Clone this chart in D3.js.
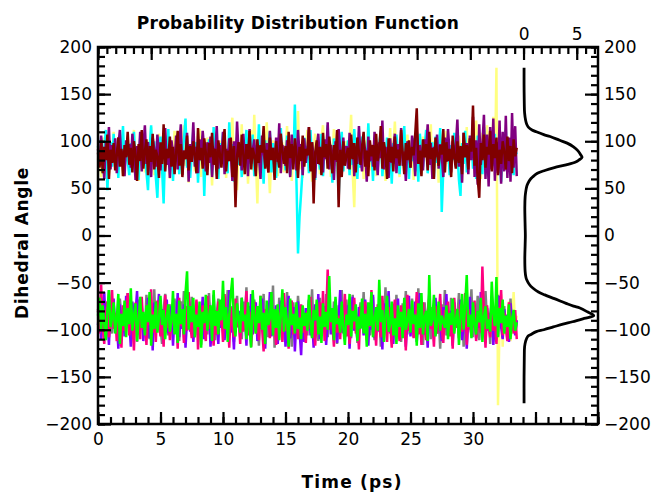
<!DOCTYPE html>
<html>
<head>
<meta charset="utf-8">
<script src="https://cdn.jsdelivr.net/npm/d3@7"></script>
<style>
body { margin: 0; background: #fff; }
</style>
</head>
<body>
<script>

let width = 651;
let height = 492;

let margins = {
	top: 47,
	right: 53,
	bottom: 68,
	left: 98
};

// one sample every 0.125 ps
let step = 0.125;

// upper state (~ +85 deg)
let yellow = [
	80, 95, 62, 88, 104, 73, 91, 66, 99, 84,
	110, 76, 92, 68, 101, 87, 63, 97, 79, 105,
	72, 94, 84, 112, 70, 90, 58, 96, 81, 103,
	67, 89, 100, 75, 115, 82, 64, 93, 78, 108,
	86, 69, 97, 74, 106, 88, 60, 99, 83, 111,
	71, 92, 65, 102, 80, 117, 74, 90, 56, 95,
	85, 107, 68, 94, 79, 113, 62, 98, 87, 72,
	104, 77, 91, 53, 96, 83, 109, 66, 89, 101,
	74, 98, 61, 92, 80, 106, 125, 70, 88, 48,
	95, 76, 118, 64, 90, 103, 55, 86, 112, 69,
	128, 82, 34, 97, 74, 105, 66, 92, 120, 78,
	45, 88, 101, 71, 94, 63, 110, 84, 99, 67,
	90, 116, 73, 96, 58, 87, 104, 79, 132, 70,
	93, 61, 100, 85, 112, 68, 97, 57, 89, 108,
	76, 94, 65, 102, 117, 81, 92, 70, 99, 62,
	88, 113, 74, 96, 52, 91, 106, 69, 85, 100,
	77, 94, 128, 66, 30, 98, 83, 110, 72, 90,
	60, 101, 86, 117, 69, 93, 78, 104, 63, 95,
	82, 109, 71, 89, 58, 97, 84, 114, 66, 92,
	121, 75, 88, 62, 103, 80, 95, 68, 107, 86,
	73, 99, 59, 91, 112, 77, 94, 64, 105, 83,
	96, 70, 87, 118, 61, 100, 79, 92, 56, 108,
	84, 97, 67, 111, 76, 89, 63, 102, 81, 94,
	72, 106, 88, 58, 99, 78, 115, 69, 93, 85,
	101, 66, 122, 80, 96, 60, 109, 75, 90, 117,
	70, 98, 83, 126, 64, 178, -180, -95, -62, -118,
	-78, -105, -88, -70, -112, -92, -60, -101, -85
];

let cyan = [
	95, 78, 104, 66, 90, 112, 48, 86, 99, 73,
	108, 82, 93, 61, 101, 87, 116, 70, 94, 80,
	64, 98, 85, 110, 74, 91, 59, 103, 79, 96,
	88, 67, 48, 92, 117, 76, 100, 62, 40, 89,
	105, 71, 34, 94, 83, 113, 69, 97, 58, 90,
	78, 108, 65, 93, 84, 102, 124, 72, 96, 61,
	87, 111, 74, 99, 56, 91, 80, 106, 42, 95,
	70, 102, 86, 64, 115, 79, 93, 60, 98, 83,
	109, 73, 90, 66, 120, 81, 97, 57, 88, 104,
	75, 94, 62, 100, 85, 112, 68, 92, 79, 107,
	63, 96, 82, 118, 71, 89, 55, 101, 77, 93,
	110, 67, 98, 84, 61, 95, 73, 114, 80, 91,
	69, 106, 87, 64, 100, 76, 139, 58, -19, 20,
	45, 72, 104, 81, 95, 66, 112, 78, 90, 59,
	99, 85, 70, 108, 63, 94, 82, 117, 74, 91,
	56, 103, 79, 96, 38, 88, 110, 68, 93, 84,
	101, 64, 97, 75, 113, 86, 60, 99, 72, 105,
	82, 93, 67, 119, 78, 90, 58, 102, 85, 71,
	96, 111, 63, 89, 80, 104, 69, 92, 55, 98,
	76, 107, 88, 65, 100, 83, 116, 71, 94, 60,
	90, 79, 103, 68, 97, 57, 108, 84, 73, 95,
	112, 66, 91, 81, 99, 62, 105, 77, 88, 114,
	25, 70, 93, 85, 102, 64, 96, 80, 109, 73,
	89, 59, 42, 98, 76, 111, 67, 94, 84, 103,
	71, 92, 60, 106, 81, 97, 65, 115, 78, 90,
	62, 100, 86, 74, 108, 69, 95, 83, 57, 99,
	80, 112, 68, 93, 77, 105, 64, 91, 86
];

let purple = [
	92, 74, 106, 83, 60, 99, 87, 115, 70, 96,
	81, 103, 66, 94, 112, 77, 90, 63, 101, 85,
	97, 72, 108, 88, 59, 95, 80, 110, 68, 93,
	117, 76, 99, 84, 62, 104, 91, 73, 107, 86,
	69, 98, 82, 114, 75, 92, 61, 101, 88, 79,
	106, 70, 95, 118, 64, 90, 83, 109, 57, 97,
	85, 120, 73, 94, 66, 102, 80, 111, 91, 68,
	99, 77, 105, 62, 93, 86, 116, 71, 96, 82,
	110, 65, 92, 79, 103, 88, 58, 100, 74, 121,
	87, 95, 69, 108, 81, 97, 63, 113, 76, 90,
	102, 72, 94, 84, 60, 106, 89, 75, 98, 67,
	111, 83, 93, 70, 104, 78, 119, 66, 96, 86,
	74, 101, 91, 62, 107, 80, 95, 69, 112, 85,
	97, 64, 103, 77, 90, 115, 72, 99, 83, 61,
	94, 108, 75, 88, 67, 102, 81, 120, 70, 96,
	86, 59, 100, 78, 113, 91, 65, 104, 82, 95,
	71, 109, 87, 98, 63, 93, 76, 116, 84, 68,
	101, 90, 57, 105, 79, 96, 73, 110, 88, 64,
	99, 82, 122, 70, 94, 85, 61, 103, 77, 92,
	108, 66, 97, 80, 114, 74, 89, 58, 100, 87,
	72, 106, 93, 63, 111, 79, 96, 84, 69, 102,
	90, 118, 75, 98, 60, 94, 83, 107, 71, 97,
	85, 62, 104, 78, 113, 89, 67, 100, 81, 95,
	123, 73, 91, 56, 109, 84, 98, 65, 106, 80,
	126, 62, 101, 54, 118, 75, 96, 128, 60, 107,
	52, 115, 70, 124, 58, 99, 66, 122, 55, 110,
	68, 127, 61, 104, 57, 130, 72, 116, 63
];

let maroon = [
	88, 72, 101, 66, 94, 80, 107, 60, 91, 77,
	98, 69, 85, 104, 73, 92, 63, 96, 83, 110,
	75, 93, 67, 100, 86, 58, 97, 79, 112, 71,
	89, 102, 64, 95, 78, 108, 70, 91, 84, 61,
	99, 76, 118, 68, 92, 82, 105, 73, 94, 65,
	87, 111, 74, 97, 62, 90, 81, 106, 69, 95,
	78, 100, 85, 66, 114, 80, 93, 71, 103, 88,
	64, 98, 83, 109, 75, 92, 60, 101, 86, 72,
	96, 113, 68, 90, 79, 104, 62, 95, 30, 84,
	99, 74, 107, 86, 65, 97, 81, 111, 70, 93,
	85, 63, 102, 77, 96, 88, 116, 71, 91, 67,
	104, 80, 93, 59, 100, 84, 72, 108, 89, 76,
	95, 66, 110, 82, 97, 70, 103, 87, 61, 94,
	79, 106, 73, 92, 85, 115, 68, 99, 34, 88,
	101, 76, 94, 64, 109, 83, 97, 71, 105, 87,
	66, 96, 80, 112, 30, 91, 62, 100, 74, 85,
	93, 70, 107, 81, 98, 67, 104, 88, 75, 95,
	110, 73, 90, 63, 101, 84, 96, 69, 108, 79,
	92, 116, 71, 99, 86, 60, 103, 78, 94, 68,
	105, 82, 91, 74, 112, 87, 65, 98, 80, 101,
	72, 94, 85, 107, 135, 76, 90, 63, 102, 83,
	97, 69, 110, 81, 93, 60, 104, 88, 74, 96,
	86, 113, 67, 99, 79, 92, 62, 106, 84, 71,
	100, 77, 95, 65, 109, 83, 96, 70, 103, 89,
	138, 74, 93, 61, 40, 98, 80, 107, 72, 94,
	86, 111, 68, 97, 82, 104, 64, 91, 76, 100,
	89, 70, 105, 79, 95, 66, 102, 84, 93
];

// lower state (~ -85 deg)
let gray = [
	-80, -99, -65, -92, -111, -76, -95, -58, -88, -104,
	-71, -97, -83, -117, -67, -90, -102, -74, -93, -61,
	-86, -108, -72, -96, -81, -113, -68, -99, -77, -91,
	-104, -63, -89, -110, -75, -94, -57, -100, -84, -71,
	-98, -115, -79, -62, -93, -106, -73, -88, -101, -67,
	-95, -82, -112, -70, -90, -59, -103, -78, -97, -86,
	-65, -109, -91, -74, -100, -84, -116, -69, -94, -80,
	-105, -61, -88, -99, -76, -111, -83, -67, -96, -90,
	-72, -107, -85, -58, -101, -93, -75, -113, -81, -64,
	-98, -87, -110, -70, -92, -55, -104, -79, -95, -85,
	-68, -102, -89, -117, -76, -96, -62, -99, -83, -108,
	-73, -94, -53, -119, -86, -100, -66, -90, -111, -78,
	-97, -60, -105, -84, -118, -71, -93, -102, -64, -89,
	-110, -75, -98, -82, -106, -69, -91, -57, -103, -87,
	-77, -112, -66, -95, -84, -100, -62, -108, -79, -92,
	-101, -70, -89, -115, -74, -96, -58, -104, -86, -68,
	-93, -81, -109, -63, -99, -76, -114, -85, -71, -97,
	-60, -102, -88, -73, -106, -92, -65, -111, -80, -95,
	-84, -118, -69, -98, -55, -103, -77, -91, -107, -74,
	-96, -63, -100, -86, -113, -72, -94, -59, -105, -82,
	-90, -67, -108, -78, -99, -56, -101, -88, -116, -71,
	-94, -83, -62, -110, -76, -97, -68, -104, -85, -120,
	-73, -92, -58, -106, -81, -99, -66, -112, -79, -95,
	-87, -61, -103, -74, -118, -90, -69, -100, -84, -57,
	-108, -77, -96, -64, -111, -86, -72, -102, -59, -93,
	-82, -115, -70, -98, -88, -106, -63, -95, -78, -109,
	-75, -100, -85, -112, -67, -97, -81, -104, -90
];

let violet = [
	-95, -72, -110, -84, -60, -99, -88, -116, -76, -92,
	-67, -103, -85, -120, -73, -97, -81, -107, -64, -94,
	-90, -118, -70, -100, -83, -59, -105, -91, -74, -112,
	-86, -98, -66, -109, -80, -122, -71, -95, -87, -62,
	-101, -78, -114, -89, -68, -104, -93, -75, -117, -84,
	-97, -61, -108, -82, -99, -73, -119, -88, -66, -102,
	-79, -113, -91, -70, -106, -85, -96, -65, -110, -83,
	-100, -74, -118, -92, -63, -105, -87, -115, -77, -98,
	-69, -111, -84, -95, -58, -103, -90, -121, -72, -94,
	-80, -108, -66, -100, -86, -117, -75, -97, -62, -105,
	-89, -71, -112, -83, -99, -67, -96, -120, -78, -91,
	-60, -107, -85, -102, -74, -115, -93, -69, -104, -81,
	-118, -90, -64, -109, -96, -76, -123, -87, -70, -101,
	-127, -84, -113, -77, -95, -68, -106, -88, -119, -73,
	-99, -62, -110, -86, -102, -75, -116, -91, -66, -105,
	-83, -97, -71, -114, -89, -58, -103, -80, -108, -93,
	-74, -120, -87, -65, -101, -92, -111, -76, -98, -84,
	-106, -68, -95, -117, -81, -100, -63, -109, -90, -77,
	-102, -88, -121, -72, -96, -85, -59, -104, -93, -115,
	-79, -98, -67, -110, -86, -101, -74, -118, -92, -64,
	-107, -83, -96, -70, -113, -89, -61, -100, -78, -105,
	-91, -119, -73, -97, -84, -108, -66, -102, -87, -95,
	-112, -76, -99, -62, -106, -90, -80, -117, -71, -94,
	-85, -103, -68, -111, -96, -79, -120, -88, -65, -100,
	-92, -74, -109, -83, -98, -60, -105, -89, -114, -77,
	-101, -86, -70, -116, -93, -81, -107, -64, -97, -110,
	-78, -95, -84, -113, -72, -99, -88, -106, -90
];

let pink = [
	-78, -104, -52, -96, -115, -85, -70, -108, -91, -58,
	-99, -82, -112, -67, -94, -119, -74, -101, -88, -61,
	-106, -79, -93, -122, -71, -97, -84, -110, -65, -100,
	-89, -116, -73, -95, -57, -103, -81, -113, -69, -92,
	-107, -86, -118, -63, -98, -77, -111, -90, -72, -104,
	-83, -120, -66, -96, -88, -114, -75, -101, -60, -93,
	-109, -80, -97, -68, -121, -87, -103, -74, -94, -112,
	-64, -99, -86, -91, -117, -79, -105, -70, -95, -83,
	-113, -62, -100, -83, -119, -76, -92, -108, -67, -97,
	-85, -115, -72, -102, -89, -59, -106, -81, -118, -93,
	-70, -104, -87, -111, -64, -98, -123, -78, -94, -84,
	-109, -66, -100, -90, -116, -74, -96, -82, -113, -61,
	-101, -88, -120, -75, -69, -105, -92, -79, -110, -96,
	-73, -103, -86, -114, -80, -99, -65, -108, -91, -117,
	-84, -97, -71, -106, -59, -112, -88, -36, -100, -77,
	-94, -118, -68, -103, -85, -110, -74, -96, -62, -107,
	-89, -115, -79, -99, -66, -104, -92, -121, -75, -86,
	-102, -70, -111, -83, -97, -58, -106, -90, -117, -73,
	-95, -108, -64, -100, -87, -113, -76, -94, -119, -81,
	-68, -103, -90, -112, -74, -98, -85, -122, -63, -101,
	-88, -77, -109, -93, -60, -105, -82, -116, -71, -97,
	-111, -84, -67, -99, -92, -118, -75, -104, -86, -62,
	-100, -114, -79, -95, -70, -107, -89, -120, -66, -98,
	-83, -109, -73, -102, -91, -61, -116, -78, -96, -105,
	-87, -69, -112, -94, -80, -103, -33, -85, -119, -74,
	-97, -108, -64, -101, -90, -115, -76, -93, -58, -106,
	-82, -99, -112, -71, -95, -88, -104, -79, -110
];

let green = [
	-85, -66, -100, -74, -93, -111, -80, -58, -97, -88,
	-71, -104, -90, -62, -115, -83, -96, -69, -108, -77,
	-94, -56, -101, -86, -72, -112, -89, -65, -98, -81,
	-106, -74, -92, -60, -117, -84, -99, -70, -103, -88,
	-64, -95, -79, -110, -87, -73, -102, -91, -59, -105,
	-83, -114, -69, -94, -78, -105, -61, -38, -100, -75,
	-92, -66, -108, -84, -97, -70, -119, -81, -93, -63,
	-101, -87, -74, -112, -58, -96, -80, -105, -68, -90,
	-48, -99, -76, -113, -85, -62, -45, -94, -107, -72,
	-88, -103, -66, -91, -84, -110, -71, -97, -119, -58,
	-86, -104, -75, -93, -64, -100, -82, -115, -69, -95,
	-88, -60, -106, -78, -98, -73, -111, -85, -57, -102,
	-76, -92, -118, -67, -95, -83, -104, -71, -99, -87,
	-110, -74, -96, -82, -101, -63, -93, -109, -79, -90,
	-68, -105, -86, -114, -72, -97, -81, -100, -43, -92,
	-77, -111, -65, -94, -88, -103, -70, -98, -116, -84,
	-95, -62, -107, -80, -91, -73, -112, -86, -99, -67,
	-104, -83, -118, -71, -96, -60, -108, -89, -76, -101,
	-47, -92, -79, -113, -85, -64, -102, -94, -70, -106,
	-88, -115, -74, -97, -81, -109, -66, -100, -91, -78,
	-103, -69, -94, -84, -117, -72, -98, -61, -105, -87,
	-80, -112, -42, -96, -89, -63, -107, -93, -70, -101,
	-85, -92, -98, -74, -110, -82, -95, -67, -104, -90,
	-78, -116, -88, -62, -100, -73, -42, -97, -84, -109,
	-71, -94, -105, -80, -92, -66, -113, -86, -75, -99,
	-89, -102, -49, -83, -96, -44, -108, -77, -93, -68,
	-104, -85, -97, -73, -110, -88, -79, -101, -92
];

let seriesColors = ["#ffff80", "#00ffff", "#800080", "#800000", "#808080", "#8000ff", "#ff0080", "#00ff00"];

// probability distribution of the angle (right panel)
let pdfAngle = [
	178, 160, 140, 130, 122, 118, 115, 112, 110, 107,
	105, 101, 98, 94, 90, 86, 83, 80, 78, 75,
	72, 69, 66, 62, 59, 55, 52, 46, 41, 30,
	10, 0, -10, -25, -38, -44, -47, -52, -56, -60,
	-63, -67, -72, -75, -77, -81, -85, -88, -91.5, -94,
	-97, -100, -102, -105, -107, -112, -118, -130, -150, -178
];
let pdfValue = [
	0.05, 0.05, 0.07, 0.1, 0.2, 0.3, 0.45, 0.8, 1.2, 1.9,
	2.5, 3.4, 4.1, 4.7, 5.1, 5.35, 5.5, 5.2, 4.9, 4.0,
	2.9, 2.0, 1.3, 0.85, 0.6, 0.4, 0.3, 0.2, 0.15, 0.12,
	0.15, 0.17, 0.15, 0.12, 0.15, 0.22, 0.3, 0.55, 0.9, 1.4,
	2.0, 2.9, 4.0, 4.7, 5.3, 6.0, 6.6, 5.7, 4.6, 3.7,
	2.8, 1.9, 1.2, 0.7, 0.4, 0.2, 0.1, 0.07, 0.05, 0.05
];

let xTicks = [0, 5, 10, 15, 20, 25, 30];
let yTicks = [-200, -150, -100, -50, 0, 50, 100, 150, 200];
let pdfTicks = [0, 5];

let series = [yellow, cyan, purple, maroon, gray, violet, pink, green].map((values, i) => ({
	values: values,
	color: seriesColors[i]
}));

let x0 = margins.left;
let x1 = width - margins.right;
let y0 = height - margins.bottom;
let y1 = margins.top;

let xScale = d3.scaleLinear()
	.range([x0, x1])
	.domain([0, 40]);

let yScale = d3.scaleLinear()
	.range([y0, y1])
	.domain([-200, 200]);

// top axis belongs to the distribution
let pdfScale = d3.scaleLinear()
	.range([x0, x1])
	.domain([-40, 7]);

let svg = d3.select("body")
	.append("svg")
		.attr("width", width)
		.attr("height", height);

let valueline = d3.line()
	.x((d, i) => xScale(i * step))
	.y(d => yScale(d));

series.forEach(s => {
	svg.append("path")
		.datum(s.values)
		.attr("d", valueline)
		.style("fill", "none")
		.style("stroke", s.color)
		.style("stroke-width", "2.5px");
});

let pdfLine = d3.line()
	.x(d => pdfScale(d))
	.y((d, i) => yScale(pdfAngle[i]))
	.curve(d3.curveCatmullRom.alpha(0.5));

svg.append("path")
	.datum(pdfValue)
	.attr("d", pdfLine)
	.style("fill", "none")
	.style("stroke", "#000")
	.style("stroke-width", "2.8px");

function styleAxis(g) {
	g.select(".domain").remove();
	g.selectAll(".tick line").attr("stroke", "#000").attr("stroke-width", 2.2);
	g.attr("font-family", "'DejaVu Sans', sans-serif").attr("font-size", 17);
	g.selectAll(".tick text").attr("fill", "#000");
}

// bottom axis
svg.append("g")
	.attr("transform", "translate(0," + y0 + ")")
	.call(d3.axisBottom(xScale).tickValues(d3.range(0, 41, 1)).tickSize(-7).tickFormat(""))
	.call(styleAxis);
svg.append("g")
	.attr("transform", "translate(0," + y0 + ")")
	.call(d3.axisBottom(xScale).tickValues(d3.range(0, 41, 5)).tickSize(-12).tickPadding(9)
		.tickFormat(d => xTicks.includes(d) ? d : ""))
	.call(styleAxis);

// top axis
svg.append("g")
	.attr("transform", "translate(0," + y1 + ")")
	.call(d3.axisTop(pdfScale).tickValues(d3.range(0, 57).map(k => -40 + k * 5 / 6)).tickSize(-7).tickFormat(""))
	.call(styleAxis);
svg.append("g")
	.attr("transform", "translate(0," + y1 + ")")
	.call(d3.axisTop(pdfScale).tickValues(d3.range(-40, 6, 5)).tickSize(-13).tickPadding(7)
		.tickFormat(d => pdfTicks.includes(d) ? d : ""))
	.call(styleAxis);

// left and right axes
[[x0, d3.axisLeft], [x1, d3.axisRight]].forEach(([xp, ax]) => {
	svg.append("g")
		.attr("transform", "translate(" + xp + ",0)")
		.call(ax(yScale).tickValues(d3.range(-200, 201, 10)).tickSize(-7).tickFormat(""))
		.call(styleAxis);
	svg.append("g")
		.attr("transform", "translate(" + xp + ",0)")
		.call(ax(yScale).tickValues(yTicks).tickSize(-13).tickPadding(6))
		.call(styleAxis);
});

// frame
svg.append("rect")
	.attr("x", x0)
	.attr("y", y1)
	.attr("width", x1 - x0)
	.attr("height", y0 - y1)
	.style("fill", "none")
	.style("stroke", "#000")
	.style("stroke-width", "2.5px");

svg.append("text")
	.attr("x", 298)
	.attr("y", 29)
	.attr("text-anchor", "middle")
	.attr("font-family", "'DejaVu Sans', sans-serif")
	.attr("font-weight", "bold")
	.attr("font-size", 17)
	.attr("letter-spacing", "0.25px")
	.text("Probability Distribution Function");

svg.append("text")
	.attr("x", 352)
	.attr("y", 488)
	.attr("text-anchor", "middle")
	.attr("font-family", "'DejaVu Sans', sans-serif")
	.attr("font-weight", "bold")
	.attr("font-size", 17)
	.attr("letter-spacing", "1.2px")
	.text("Time (ps)");

svg.append("text")
	.attr("transform", "translate(28,243) rotate(-90)")
	.attr("text-anchor", "middle")
	.attr("font-family", "'DejaVu Sans', sans-serif")
	.attr("font-weight", "bold")
	.attr("font-size", 17)
	.attr("letter-spacing", "0.7px")
	.text("Dihedral Angle");

</script>
</body>
</html>
